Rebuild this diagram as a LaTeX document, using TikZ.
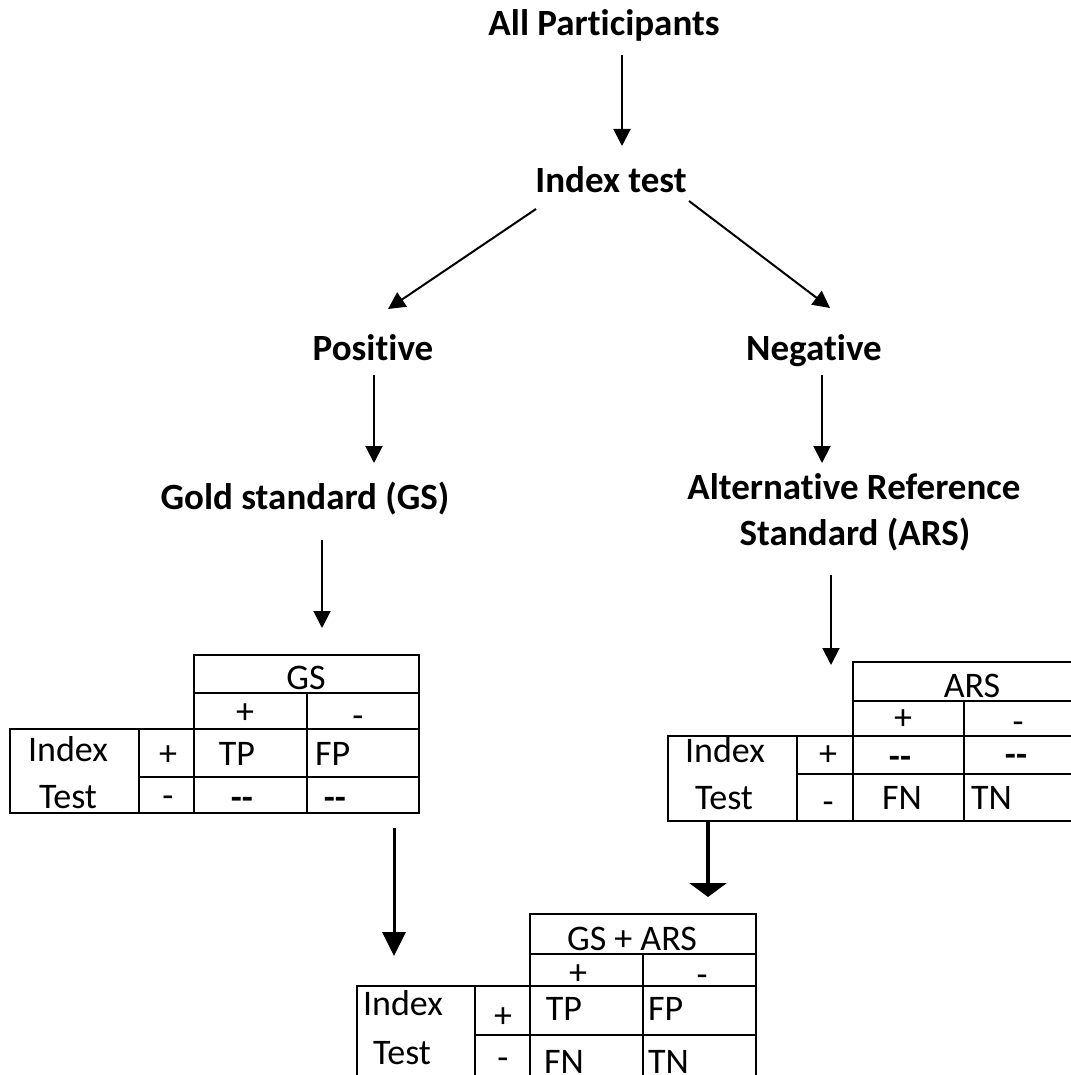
\documentclass[tikz,border=0pt]{standalone}
\usepackage{fontspec}
\setmainfont{Carlito}[Ligatures={NoCommon}]
\usetikzlibrary{arrows.meta}
\newcommand{\dd}{{\bfseries -{}-}}
\begin{document}
\begin{tikzpicture}[x=1pt,y=-1pt,
  lbl/.style={font=\fontsize{37}{41}\selectfont\bfseries, inner sep=0pt, anchor=base},
  cell/.style={font=\fontsize{36}{40}\selectfont, inner sep=0pt, anchor=base},
  cellw/.style={cell, anchor=base west},
  sign/.style={font=\fontsize{36}{40}\selectfont, inner sep=0pt, anchor=center},
  arr/.style={line width=2pt, -{Triangle[width=17pt,length=17pt]}},
  grid/.style={line width=2pt, line cap=rect}]
\fill[white] (0,0) rectangle (1070,1075);
\useasboundingbox (0,0) rectangle (1070,1075);

% flow labels
\node[lbl] (allp) at (604,36) {All Participants};
\node[lbl] (idx)  at (611,193) {Index test};
\node[lbl] (pos)  at (373,360) {Positive};
\node[lbl] (neg)  at (814,360) {Negative};
\node[lbl] (gs)   at (305,509) {Gold standard (GS)};
\node[lbl] (ars1) at (854,499) {Alternative Reference};
\node[lbl] (ars2) at (855,545) {Standard (ARS)};

% connector end points
\coordinate (a1s) at (622,55);  \coordinate (a1e) at (622,146);
\coordinate (a2s) at (536,209); \coordinate (a2e) at (388,309);
\coordinate (a3s) at (689,201); \coordinate (a3e) at (830,308);
\coordinate (a4s) at (374,375); \coordinate (a4e) at (374,463);
\coordinate (a5s) at (822,375); \coordinate (a5e) at (822,463);
\coordinate (a6s) at (322,540); \coordinate (a6e) at (322,628);
\coordinate (a7s) at (831,575); \coordinate (a7e) at (831,665);
\coordinate (a8s) at (394,828); \coordinate (a8e) at (394,956);
\coordinate (a9s) at (708,822); \coordinate (a9e) at (708,897);

\draw[arr] (a1s) -- (a1e);
\draw[arr] (a2s) -- (a2e);
\draw[arr] (a3s) -- (a3e);
\draw[arr] (a4s) -- (a4e);
\draw[arr] (a5s) -- (a5e);
\draw[arr] (a6s) -- (a6e);
\draw[arr] (a7s) -- (a7e);
\draw[line width=3pt, -{Triangle[width=23pt,length=24pt]}] (a8s) -- (a8e);
\draw[line width=4pt, -{Triangle[width=37pt,length=14pt]}] (a9s) -- (a9e);

% table: gold standard
\draw[grid] (194,655) -- (419,655);
\draw[grid] (194,693) -- (419,693);
\draw[grid] (10,729) -- (419,729);
\draw[grid] (139,777) -- (419,777);
\draw[grid] (10,813) -- (419,813);
\draw[grid] (10,729) -- (10,813);
\draw[grid] (139,729) -- (139,813);
\draw[grid] (194,655) -- (194,813);
\draw[grid] (307,693) -- (307,813);
\draw[grid] (419,655) -- (419,813);
\node[cell] (t1h) at (306,689) {GS};
\node[sign] (t1cp) at (245,714) {+};
\node[cell] (t1cm) at (358,727) {-};
\node[cell] (t1i) at (68,761) {Index};
\node[cell] (t1t) at (68,808) {Test};
\node[sign] (t1rp) at (168,756) {+};
\node[cell] (t1rm) at (168,807) {-};
\node[cell] (t1tp) at (237,765) {TP};
\node[cellw] (t1fp) at (315,765) {FP};
\node[cell] (t1d1) at (242,809) {\dd};
\node[cell] (t1d2) at (335,809) {\dd};

% table: alternative reference standard
\draw[grid] (853,662) -- (1072,662);
\draw[grid] (853,701) -- (1072,701);
\draw[grid] (668,736) -- (1072,736);
\draw[grid] (797,774) -- (1072,774);
\draw[grid] (668,821) -- (1072,821);
\draw[grid] (668,736) -- (668,821);
\draw[grid] (797,736) -- (797,821);
\draw[grid] (853,662) -- (853,821);
\draw[grid] (964,701) -- (964,821);
\node[cell] (t2h) at (972,697) {ARS};
\node[sign] (t2cp) at (903,720) {+};
\node[cell] (t2cm) at (1018,733) {-};
\node[cell] (t2i) at (725,762) {Index};
\node[cell] (t2t) at (724,809) {Test};
\node[sign] (t2rp) at (828,756) {+};
\node[cell] (t2rm) at (828,813) {-};
\node[cell] (t2d1) at (900,768) {\dd};
\node[cell] (t2d2) at (1016,766) {\dd};
\node[cell] (t2fn) at (902,809) {FN};
\node[cellw] (t2tn) at (971,809) {TN};

% table: combined reference
\draw[grid] (530,914) -- (756,914);
\draw[grid] (530,954) -- (756,954);
\draw[grid] (357,986) -- (756,986);
\draw[grid] (475,1035) -- (756,1035);
\draw[grid] (357,986) -- (357,1077);
\draw[grid] (475,986) -- (475,1077);
\draw[grid] (530,914) -- (530,1077);
\draw[grid] (643,954) -- (643,1077);
\draw[grid] (756,914) -- (756,1077);
\node[cell] (t3h) at (632,950) {GS + ARS};
\node[sign] (t3cp) at (578,975) {+};
\node[cell] (t3cm) at (702,986) {-};
\node[cell] (t3i) at (403,1015) {Index};
\node[cell] (t3t) at (402,1064) {Test};
\node[sign] (t3rp) at (503,1018) {+};
\node[cell] (t3rm) at (503,1069) {-};
\node[cell] (t3tp) at (564,1020) {TP};
\node[cellw] (t3fp) at (648,1020) {FP};
\node[cell] (t3fn) at (564,1073) {FN};
\node[cellw] (t3tn) at (648,1073) {TN};
\end{tikzpicture}
\end{document}
